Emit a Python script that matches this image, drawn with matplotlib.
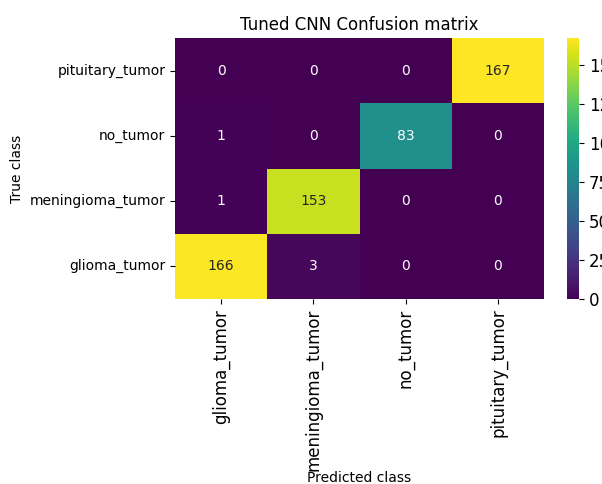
import matplotlib
matplotlib.use("Agg")
import matplotlib.pyplot as plt
from matplotlib.ticker import MultipleLocator
import numpy as np
import seaborn as sns

classes = ["glioma_tumor", "meningioma_tumor", "no_tumor", "pituitary_tumor"]
# rows = true class, columns = predicted class
glioma_row = [166, 3, 0, 0]
meningioma_row = [1, 153, 0, 0]
no_tumor_row = [1, 0, 83, 0]
pituitary_row = [0, 0, 0, 167]

cm = np.array([glioma_row, meningioma_row, no_tumor_row, pituitary_row])

fig = plt.figure(figsize=(6.02, 4.84), dpi=100)
ax = fig.add_axes([175 / 602, 1 - 299 / 484, 369 / 602, 261 / 484])
cax = fig.add_axes([567 / 602, 1 - 299 / 484, 12 / 602, 261 / 484])

sns.heatmap(cm, annot=True, fmt="d", cmap="viridis", ax=ax, cbar_ax=cax,
            xticklabels=classes, yticklabels=classes,
            annot_kws={"fontsize": 10})
ax.invert_yaxis()
ax.set_title("Tuned CNN Confusion matrix", fontsize=12)
ax.set_xlabel("Predicted class", fontsize=10, labelpad=0)
ax.set_ylabel("True class", fontsize=10)
plt.setp(ax.get_xticklabels(), rotation=90, fontsize=12)
plt.setp(ax.get_yticklabels(), rotation=0, fontsize=10)

cax.yaxis.set_major_locator(MultipleLocator(25))
cax.tick_params(labelsize=12)

fig.savefig("out.png", dpi=100)
